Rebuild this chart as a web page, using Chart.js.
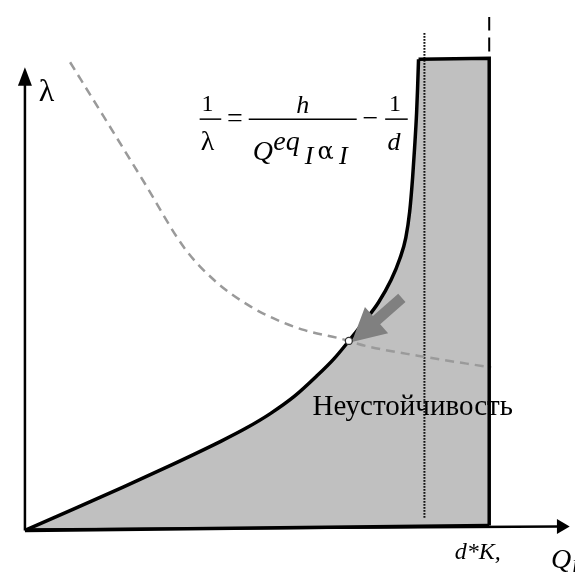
<!DOCTYPE html>
<html>
<head>
<meta charset="utf-8">
<script src="https://cdn.jsdelivr.net/npm/chart.js@4.4.1/dist/chart.umd.min.js"></script>
<style>
  body { margin:0; background:#fff; }
  #wrap { width:575px; height:572px; }
</style>
</head>
<body>
<div id="wrap"><canvas id="grafico" width="575" height="572"></canvas></div>
<script>
//=========================datos del diagrama============================
// frontera de la zona de inestabilidad (curva)
const curvaX = [0, 50, 100, 150, 200, 225, 250, 275, 297, 315, 330, 345, 360, 373, 382, 388, 392, 395, 397, 399, 400, 401];
const curvaY = [-2, 20, 42, 65, 89, 102, 117, 135, 155, 173, 191, 210, 230, 253, 275, 296, 323, 358, 388, 423, 448, 478];
// tapa y lado derecho (d*K)
const cajaX = [401, 473, 473];
const cajaY = [478, 479, 3];
// borde inferior
const baseX = [0, 473];
const baseY = [-2, 3];
// curva 1/lambda = h/(Q alpha) - 1/d
const limiteX = [46, 80, 120, 163, 195, 230, 260, 285, 323, 347, 400, 475];
const limiteY = [475, 420, 355, 285, 251, 226, 211, 202, 193, 186, 176, 164];
// punto de cruce
const cruceX = [330];
const cruceY = [191];
// verticales de referencia
const punteadaX = [407, 407];
const punteadaY = [11, 505];
const discontX = [473, 473];
const discontY = [486, 521];
// ejes
const ejeXx = [0, 545];
const ejeXy = [-1, 2];
const ejeYx = [0, 0];
const ejeYy = [-2, 455];
// flecha gris (cola -> punta)
const flechaX = [384, 333];
const flechaY = [235, 190];

const pts = (xs, ys) => xs.map((x, i) => ({x: x, y: ys[i]}));

const SERIF = '"Liberation Serif", "DejaVu Serif", serif';
const GRIEGA = '"DejaVu Serif", serif';

// textos: [texto, x, y, tamaño, cursiva, alineación, fuente]
const textos = [
  ['λ', 14, 436, 32, false, 'left'],
  ['Неустойчивость', 293, 116, 29, false, 'left'],
  ['d*K,', 438, -31, 24, true, 'left'],
  ['Q', 536, -40, 28, true, 'left'],
  ['I', 557, -45, 18, true, 'left'],
  // fórmula
  ['1', 186, 425, 24, false, 'center'],
  ['λ', 186, 386, 28, false, 'center'],
  ['=', 214, 409, 28, false, 'center'],
  ['h', 283, 423, 26, true, 'center'],
  ['Q', 232, 375, 28, true, 'left'],
  ['eq', 253, 386, 28, true, 'left'],
  ['I', 285, 371, 26, true, 'left'],
  ['α', 298, 376, 24, false, 'left', GRIEGA],
  ['I', 320, 371, 26, true, 'left'],
  ['−', 352, 409, 28, false, 'center'],
  ['1', 377, 425, 24, false, 'center'],
  ['d', 376, 386, 26, true, 'center']
];
// rayas de fracción: [x1, x2, y]
const rayas = [[178, 200, 417], [228, 338, 417], [367, 390, 417]];

function linea(data, color, ancho, extra){
  return Object.assign({
    data: data, borderColor: color, borderWidth: ancho,
    pointRadius: 0, fill: false, tension: 0
  }, extra || {});
}

function punta(ctx, tx, ty, bx, by, mitad){
  const dx = tx - bx, dy = ty - by, l = Math.hypot(dx, dy);
  const nx = -dy / l * mitad, ny = dx / l * mitad;
  ctx.beginPath();
  ctx.moveTo(tx, ty);
  ctx.lineTo(bx + nx, by + ny);
  ctx.lineTo(bx - nx, by - ny);
  ctx.closePath();
  ctx.fill();
}

const anotaciones = {
  id: 'anotaciones',
  afterDatasetDraw(chart, args){
    if (args.index !== 1) return;
    // flecha gris sobre la curva
    const {ctx, scales:{x, y}} = chart;
    const tx = x.getPixelForValue(flechaX[0]), ty = y.getPixelForValue(flechaY[0]);
    const px = x.getPixelForValue(flechaX[1]), py = y.getPixelForValue(flechaY[1]);
    const l = Math.hypot(px - tx, py - ty);
    const ux = (px - tx) / l, uy = (py - ty) / l, nx = -uy, ny = ux;
    const largo = 33, mc = 5.5, mp = 17.5;
    const bx = px - ux * largo, by = py - uy * largo;
    ctx.save();
    ctx.fillStyle = '#808080';
    ctx.beginPath();
    ctx.moveTo(tx + nx * mc, ty + ny * mc);
    ctx.lineTo(bx + nx * mc, by + ny * mc);
    ctx.lineTo(bx + nx * mp, by + ny * mp);
    ctx.lineTo(px, py);
    ctx.lineTo(bx - nx * mp, by - ny * mp);
    ctx.lineTo(bx - nx * mc, by - ny * mc);
    ctx.lineTo(tx - nx * mc, ty - ny * mc);
    ctx.closePath();
    ctx.fill();
    ctx.restore();
  },
  afterDatasetsDraw(chart){
    const {ctx, scales:{x, y}} = chart;
    const X = v => x.getPixelForValue(v), Y = v => y.getPixelForValue(v);
    ctx.save();
    // puntas de los ejes
    ctx.fillStyle = '#000';
    punta(ctx, X(0), Y(470), X(0), Y(451), 7);
    punta(ctx, X(555), Y(2), X(542), Y(2), 7.5);
    // textos
    ctx.textBaseline = 'alphabetic';
    textos.forEach(t => {
      ctx.font = (t[4] ? 'italic ' : '') + t[3] + 'px ' + (t[6] || SERIF);
      ctx.textAlign = t[5];
      ctx.fillText(t[0], X(t[1]), Y(t[2]));
    });
    // rayas de fracción
    ctx.strokeStyle = '#000';
    ctx.lineWidth = 1.5;
    rayas.forEach(r => {
      ctx.beginPath();
      ctx.moveTo(X(r[0]), Y(r[2]));
      ctx.lineTo(X(r[1]), Y(r[2]));
      ctx.stroke();
    });
    ctx.restore();
  }
};

const region = pts(curvaX.concat(cajaX), curvaY.concat(cajaY));

new Chart(document.getElementById('grafico'), {
  type: 'line',
  data: {
    datasets: [
      { data: pts(cruceX, cruceY), showLine: false, pointRadius: 3.5, pointBorderWidth: 1.3,
        pointBackgroundColor: '#fff', pointBorderColor: '#333' },                       // 0
      linea(pts(curvaX, curvaY), '#000', 3.5, { cubicInterpolationMode: 'monotone' }),  // 1
      linea(pts(cajaX, cajaY), '#000', 3.5, { borderJoinStyle: 'miter' }),              // 2
      linea(pts(baseX, baseY), '#000', 3.5),                                            // 3
      linea(pts(ejeXx, ejeXy), '#000', 2.5),                                            // 4
      linea(pts(ejeYx, ejeYy), '#000', 2.5),                                            // 5
      linea(pts(limiteX, limiteY), '#9a9a9a', 2.5,
            { borderDash: [9, 6], cubicInterpolationMode: 'monotone' }),               // 6
      linea(pts(punteadaX, punteadaY), '#111', 2, { borderDash: [1.6, 1.4] }),          // 7
      linea(pts(discontX, discontY), '#000', 2, { borderDash: [14, 7] }),               // 8
      linea(region, 'rgba(0,0,0,0)', 0, { fill: 3, backgroundColor: '#c0c0c0' })        // 9
    ]
  },
  options: {
    responsive: false,
    animation: false,
    layout: { padding: 0 },
    plugins: { legend: { display: false }, tooltip: { enabled: false } },
    scales: {
      x: { type: 'linear', min: -20, max: 555, display: false },
      y: { type: 'linear', min: -39, max: 533, display: false }
    }
  },
  plugins: [anotaciones]
});
</script>
</body>
</html>
